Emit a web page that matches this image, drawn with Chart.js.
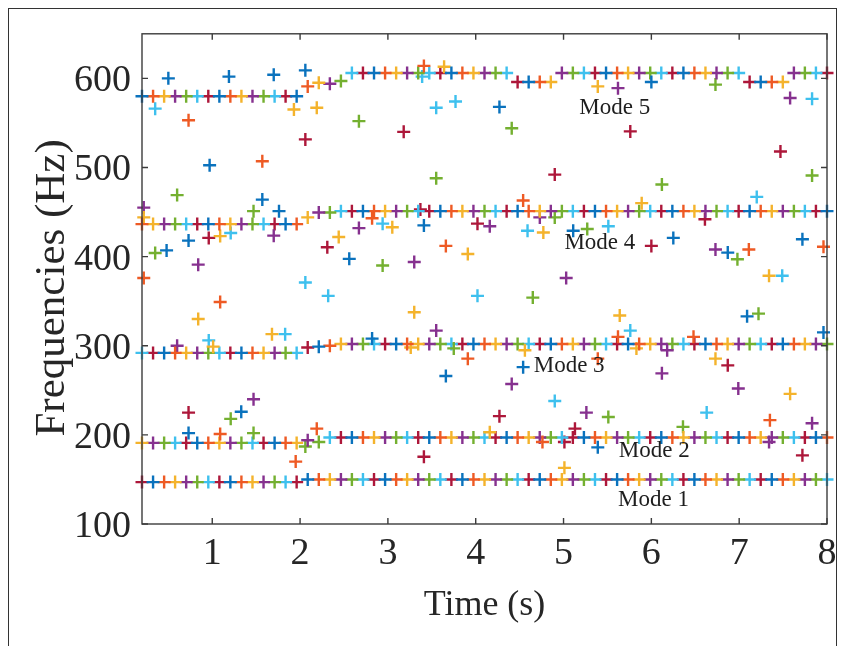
<!DOCTYPE html>
<html>
<head>
<meta charset="utf-8">
<title>Modal frequencies</title>
<script src="https://cdn.jsdelivr.net/npm/chart.js@4.4.1/dist/chart.umd.min.js"></script>
<style>
  html, body { margin: 0; padding: 0; background: #fff; overflow: hidden; }
  #wrap { position: relative; width: 847px; height: 646px; }
  #frame { position: absolute; left: 8px; top: 8px; width: 829px; height: 700px; border: 1.5px solid #333; box-sizing: border-box; }
  canvas { position: absolute; left: 0; top: 0; }
</style>
</head>
<body>
<div id="wrap">
  <div id="frame"></div>
  <canvas id="chart" width="847" height="646"></canvas>
</div>
<script>
// Identification instants (s)
const times = [
  0.200, 0.326, 0.452, 0.577, 0.703, 0.829, 0.955, 1.081, 1.206, 1.332, 1.458, 1.584, 1.710, 1.835, 1.961,
  2.087, 2.213, 2.339, 2.465, 2.590, 2.716, 2.842, 2.968, 3.094, 3.219, 3.345, 3.471, 3.597, 3.723, 3.848, 3.974,
  4.100, 4.226, 4.352, 4.477, 4.603, 4.729, 4.855, 4.981, 5.106, 5.232, 5.358, 5.484, 5.610, 5.735, 5.861, 5.987,
  6.113, 6.239, 6.365, 6.490, 6.616, 6.742, 6.868, 6.994, 7.119, 7.245, 7.371, 7.497, 7.623, 7.748, 7.874, 8.000
];

// Tracked modes (Hz), one value per instant
const mode1 = [
  147, 147, 147, 147, 147, 147, 147, 147, 147, 147, 147, 147, 147, 147, 147,
  150, 150, 150, 150, 150, 150, 150, 150, 150, 150, 150, 150, 150, 150, 150, 150,
  150, 150, 150, 150, 150, 150, 150, 150, 150, 150, 150, 150, 150, 150, 150, 150,
  150, 150, 150, 150, 150, 150, 150, 150, 150, 150, 150, 150, 150, 150, 150, 150
];
const mode2 = [
  191, 191, 191, 191, 191, 191, 191, 191, 191, 191, 191, 191, 191, 191, 191,
  194, 192, 197, 197, 197, 197, 197, 197, 197, 197, 197, 197, 197, 197, 197, 197,
  197, 197, 197, 197, 197, 197, 197, 197, 197, 197, 197, 197, 197, 197, 197, 197,
  197, 197, 197, 197, 197, 197, 197, 197, 197, 197, 197, 197, 197, 197, 197, 197
];
const mode3 = [
  292, 292, 292, 292, 292, 292, 292, 292, 292, 292, 292, 292, 292, 292, 292,
  298, 299, 300, 302, 302, 302, 302, 302, 302, 302, 302, 302, 302, 302, 302, 302,
  302, 302, 302, 302, 302, 302, 302, 302, 302, 302, 302, 302, 302, 302, 302, 302,
  302, 302, 302, 302, 302, 302, 302, 302, 302, 302, 302, 302, 302, 302, 302, 302
];
const mode4 = [
  436.5, 436.5, 436.5, 436.5, 436.5, 436.5, 436.5, 436.5, 436.5, 436.5, 436.5, 436.5, 436.5, 436.5, 436.5,
  444, 449.5, 449.5, 451, 451, 451, 451, 451, 451, 451, 451, 451, 451, 451, 451, 451,
  451, 451, 451, 451, 451, 451, 451, 451, 451, 451, 451, 451, 451, 451, 451, 451,
  451, 451, 451, 451, 451, 451, 451, 451, 451, 451, 451, 451, 451, 451, 451, 451
];
const mode5 = [
  580, 580, 580, 580, 580, 580, 580, 580, 580, 580, 580, 580, 580, 580, 580,
  591, 595, 594, 597, 606, 606, 606, 606, 606, 606, 606, 606, 606, 606, 606, 606,
  606, 606, 606, 596, 596, 596, 596, 606, 606, 606, 606, 606, 606, 606, 606, 606,
  606, 606, 606, 606, 606, 606, 606, 606, 596, 596, 596, 596, 606, 606, 606, 606
];

// Spurious estimates [time (s), frequency (Hz)], grouped by plot colour
const strayBlue = [
  [0.50, 600], [1.19, 602], [1.70, 604], [2.06, 609], [0.97, 502.5], [1.57, 464], [1.76, 451],
  [0.73, 418], [0.48, 407], [2.56, 397.5], [3.41, 435], [4.27, 568], [2.82, 308], [3.66, 266],
  [0.73, 202], [1.33, 226], [6.00, 596], [5.11, 429], [6.25, 421], [6.87, 404.5], [7.72, 419.5],
  [7.09, 333], [7.96, 315], [4.54, 276], [5.39, 186]
];
const strayOrange = [
  [0.73, 553], [1.57, 507], [0.22, 376], [2.82, 443], [3.66, 412], [1.09, 349], [1.09, 201],
  [2.19, 207], [1.95, 170], [3.91, 285.5], [4.54, 463], [7.96, 411], [7.11, 408], [5.39, 285.5],
  [6.48, 310], [7.35, 216.5], [4.76, 192], [3.41, 614], [5.62, 310]
];
const strayYellow = [
  [1.93, 565], [2.19, 567], [0.22, 444], [1.09, 423], [2.44, 422], [3.05, 433], [3.91, 403],
  [0.84, 330], [3.30, 337.5], [1.01, 299], [1.68, 313], [3.26, 298], [4.77, 427], [5.39, 591],
  [5.89, 460], [7.34, 378.5], [5.64, 334], [5.83, 297], [6.73, 285.5], [7.58, 246], [5.01, 163],
  [4.16, 203], [3.64, 613], [4.56, 295]
];
const strayPurple = [
  [0.22, 455], [1.70, 423.5], [0.84, 391], [2.67, 432], [3.30, 394], [0.60, 300], [3.55, 317],
  [1.47, 240], [4.16, 434], [5.03, 376], [5.62, 589], [7.58, 578], [4.73, 444], [6.73, 408],
  [6.18, 295], [6.12, 269], [6.99, 252], [7.83, 213], [4.41, 257], [5.26, 225], [7.34, 192]
];
const strayGreen = [
  [0.60, 469], [2.67, 552], [3.55, 488], [4.41, 544], [1.47, 451], [0.35, 404], [2.94, 390],
  [1.21, 218], [1.47, 202], [2.06, 187], [3.75, 297], [6.12, 481], [7.83, 491], [4.65, 354],
  [4.90, 444], [5.27, 431], [6.73, 593], [6.98, 397], [7.22, 336], [5.51, 220], [6.36, 209]
];
const strayCyan = [
  [0.35, 566], [3.55, 567], [3.77, 574], [3.39, 602], [1.21, 426.5], [2.94, 437], [2.06, 371],
  [2.32, 356], [4.02, 356], [0.96, 306], [1.83, 313], [4.59, 429], [5.51, 434], [7.20, 467],
  [7.49, 378.5], [5.76, 317], [6.63, 225], [4.90, 238], [7.83, 577]
];
const strayRed = [
  [2.06, 531.5], [3.18, 540], [0.96, 421], [2.31, 410.5], [4.02, 437], [3.37, 453], [0.73, 225],
  [3.41, 175.5], [4.90, 492], [5.76, 540.5], [7.47, 518], [6.00, 412], [6.61, 442], [6.87, 278],
  [4.27, 221], [5.13, 207], [7.72, 177], [5.01, 192]
];

const xTicks = [1, 2, 3, 4, 5, 6, 7, 8];
const yTicks = [100, 200, 300, 400, 500, 600];
const modeNames = ['Mode 1', 'Mode 2', 'Mode 3', 'Mode 4', 'Mode 5'];

// MATLAB colour order; each marker takes the next colour in turn
const palette = ['#0a72bd', '#ee5a24', '#f4b32c', '#86318f', '#74b030', '#3ec0ee', '#ad173a'];
const strays = [strayBlue, strayOrange, strayYellow, strayPurple, strayGreen, strayCyan, strayRed];
// where each mode line sits in the colour cycle at the first instant
const modeTracks = [[mode1, 6], [mode2, 2], [mode3, 5], [mode4, 1], [mode5, 0]];

const serif = '"Liberation Serif", "Times New Roman", serif';
const ink = '#262626';

const datasets = palette.map((color, c) => {
  const pts = [];
  modeTracks.forEach(([vals, shift]) => {
    vals.forEach((f, k) => {
      if (f !== null && (k + shift) % 7 === c) pts.push({ x: times[k], y: f });
    });
  });
  strays[c].forEach(([t, f]) => pts.push({ x: t, y: f }));
  return {
    data: pts,
    borderColor: color,
    backgroundColor: color,
    pointStyle: 'cross',
    pointRadius: 6.5,
    pointBorderWidth: 2.4,
    pointHoverRadius: 6.5,
    showLine: false,
    clip: false
  };
});

// mode captions, anchored at their left edge in data units
const modeNotes = [
  { text: modeNames[4], t: 5.18, f: 567 },
  { text: modeNames[3], t: 5.01, f: 415 },
  { text: modeNames[2], t: 4.66, f: 277 },
  { text: modeNames[1], t: 5.63, f: 182.5 },
  { text: modeNames[0], t: 5.62, f: 127 }
];

// box round the axes with inward ticks on all four sides, plus captions
const axesBox = {
  id: 'axesBox',
  afterDatasetsDraw(chart) {
    const { ctx, chartArea: a, scales: { x, y } } = chart;
    const len = 6;
    ctx.save();
    ctx.strokeStyle = '#3c3c3c';
    ctx.lineWidth = 1.4;
    ctx.strokeRect(a.left, a.top, a.right - a.left, a.bottom - a.top);
    ctx.beginPath();
    xTicks.forEach(v => {
      const px = x.getPixelForValue(v);
      ctx.moveTo(px, a.bottom); ctx.lineTo(px, a.bottom - len);
      ctx.moveTo(px, a.top); ctx.lineTo(px, a.top + len);
    });
    yTicks.forEach(v => {
      const py = y.getPixelForValue(v);
      ctx.moveTo(a.left, py); ctx.lineTo(a.left + len, py);
      ctx.moveTo(a.right, py); ctx.lineTo(a.right - len, py);
    });
    ctx.stroke();

    ctx.font = '23px ' + serif;
    ctx.fillStyle = '#1e1e1e';
    ctx.textBaseline = 'middle';
    ctx.textAlign = 'left';
    modeNotes.forEach(n => ctx.fillText(n.text, x.getPixelForValue(n.t), y.getPixelForValue(n.f)));

    // y-axis title, sitting a little below the middle of the axis
    ctx.font = '43px ' + serif;
    ctx.fillStyle = ink;
    ctx.textAlign = 'center';
    ctx.translate(53, (a.top + a.bottom) / 2 + 9);
    ctx.rotate(-Math.PI / 2);
    ctx.fillText('Frequencies (Hz)', 0, 0);
    ctx.restore();
  }
};

new Chart(document.getElementById('chart'), {
  type: 'scatter',
  data: { datasets },
  options: {
    responsive: false,
    animation: false,
    events: [],
    layout: { padding: { left: 0, top: 33, right: 20, bottom: 0 } },
    plugins: { legend: { display: false }, tooltip: { enabled: false } },
    scales: {
      x: {
        type: 'linear',
        min: 0.2,
        max: 8,
        afterBuildTicks: s => { s.ticks = xTicks.map(v => ({ value: v })); },
        afterFit: s => { s.height = 122; },
        grid: { display: false, drawTicks: false },
        border: { display: false },
        ticks: { color: ink, font: { family: serif, size: 38 }, padding: 7, maxRotation: 0 },
        title: { display: true, text: 'Time (s)', color: ink, font: { family: serif, size: 36 }, padding: { top: 0, bottom: 19 } }
      },
      y: {
        type: 'linear',
        min: 100,
        max: 650,
        afterBuildTicks: s => { s.ticks = yTicks.map(v => ({ value: v })); },
        afterFit: s => { s.width = 142; },
        grid: { display: false, drawTicks: false },
        border: { display: false },
        ticks: { color: ink, font: { family: serif, size: 38 }, padding: 11, labelOffset: 3 }
      }
    }
  },
  plugins: [axesBox]
});
</script>
</body>
</html>
